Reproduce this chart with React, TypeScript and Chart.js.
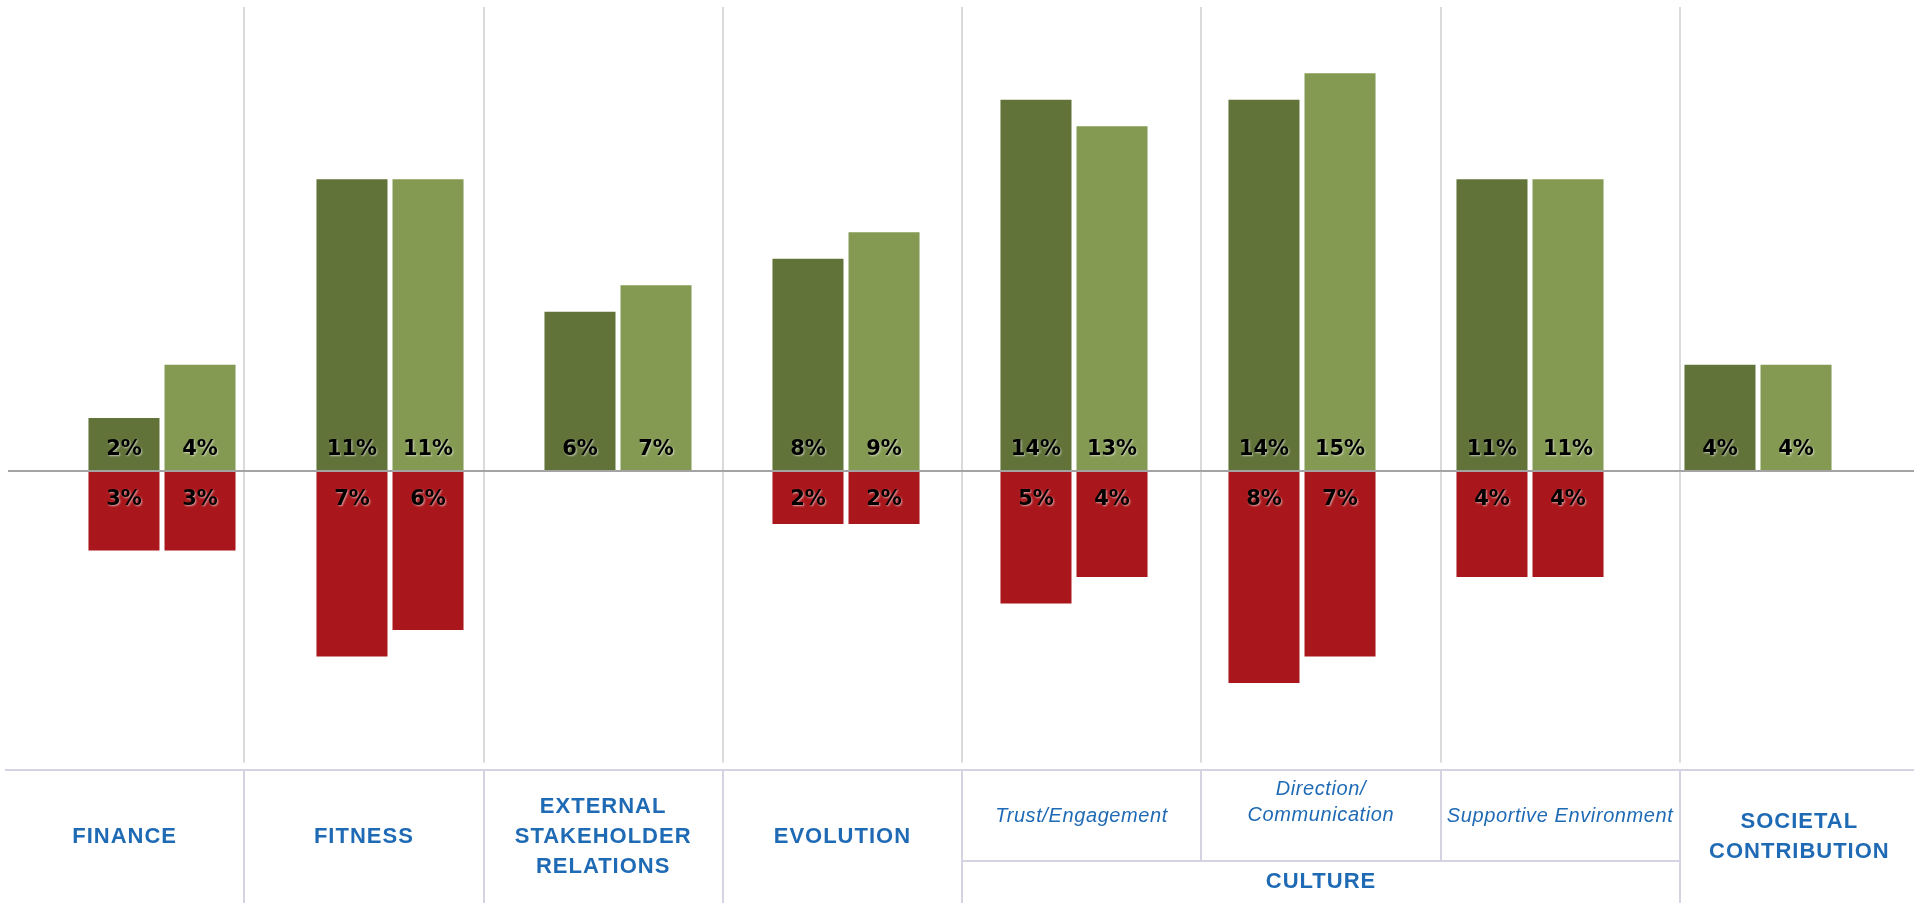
import React, { useEffect, useRef } from 'react';
import { Chart, registerables } from 'chart.js';

Chart.register(...registerables);

// ---- data ----
const categories = [
  'FINANCE',
  'FITNESS',
  'EXTERNAL STAKEHOLDER RELATIONS',
  'EVOLUTION',
  'Trust/Engagement',
  'Direction/Communication',
  'Supportive Environment',
  'SOCIETAL CONTRIBUTION',
];
const headerLines: string[][] = [
  ['FINANCE'],
  ['FITNESS'],
  ['EXTERNAL', 'STAKEHOLDER', 'RELATIONS'],
  ['EVOLUTION'],
  ['Trust/Engagement'],
  ['Direction/', 'Communication'],
  ['Supportive Environment'],
  ['SOCIETAL', 'CONTRIBUTION'],
];
const isSubCategory = [false, false, false, false, true, true, true, false];
const parentGroupLabel = 'CULTURE';

const positiveA = [2, 11, 6, 8, 14, 14, 11, 4];
const positiveB = [4, 11, 7, 9, 13, 15, 11, 4];
const negativeA = [-3, -7, 0, -2, -5, -8, -4, 0];
const negativeB = [-3, -6, 0, -2, -4, -7, -4, 0];

const DARK_GREEN = '#617339';
const LIGHT_GREEN = '#849a53';
const RED = '#a9171c';
const BLUE = '#1f6ab4';

const overlayPlugin = {
  id: 'overlay',
  beforeDatasetsDraw(chart: any) {
    const { ctx, chartArea } = chart;
    const W = chart.width;
    const left = 5;
    const colW = W / 8;
    ctx.save();
    ctx.strokeStyle = '#dadada';
    ctx.lineWidth = 2;
    for (let i = 1; i < 8; i++) {
      const x = Math.round(left + colW * i);
      ctx.beginPath();
      ctx.moveTo(x, chartArea.top);
      ctx.lineTo(x, chartArea.bottom);
      ctx.stroke();
    }
    ctx.restore();
  },
  afterDatasetsDraw(chart: any) {
    const { ctx } = chart;
    const y0 = chart.scales.y.getPixelForValue(0);
    ctx.save();
    ctx.strokeStyle = '#a3a3a3';
    ctx.lineWidth = 2;
    ctx.beginPath();
    ctx.moveTo(8, y0);
    ctx.lineTo(chart.width, y0);
    ctx.stroke();

    ctx.font = 'bold 21px "DejaVu Sans"';
    ctx.textAlign = 'center';
    ctx.textBaseline = 'middle';
    ctx.fillStyle = '#000';
    ctx.shadowColor = 'rgba(255,255,255,0.6)';
    ctx.shadowOffsetX = 1;
    ctx.shadowOffsetY = 1;
    ctx.shadowBlur = 2;
    chart.data.datasets.forEach((ds: any, di: number) => {
      const meta = chart.getDatasetMeta(di);
      meta.data.forEach((bar: any, i: number) => {
        const v = ds.data[i];
        if (!v) return;
        const y = v > 0 ? y0 - 21 : y0 + 29;
        ctx.fillText(Math.abs(v) + '%', bar.x, y);
      });
    });
    ctx.restore();
  },
  afterDraw(chart: any) {
    const { ctx } = chart;
    const W = chart.width;
    const H = chart.height;
    const left = 5;
    const colW = W / 8;
    const top = 770;
    const subLineY = 861;
    ctx.save();
    ctx.strokeStyle = '#d3d3e1';
    ctx.lineWidth = 2;
    ctx.beginPath();
    ctx.moveTo(left, top);
    ctx.lineTo(W, top);
    ctx.stroke();
    for (let i = 1; i < 8; i++) {
      const x = Math.round(left + colW * i);
      const inner = isSubCategory[i - 1] && isSubCategory[i];
      ctx.beginPath();
      ctx.moveTo(x, top);
      ctx.lineTo(x, inner ? subLineY : H);
      ctx.stroke();
    }
    const firstSub = isSubCategory.indexOf(true);
    const lastSub = isSubCategory.lastIndexOf(true);
    const subL = Math.round(left + colW * firstSub);
    const subR = Math.round(left + colW * (lastSub + 1));
    ctx.beginPath();
    ctx.moveTo(subL, subLineY);
    ctx.lineTo(subR, subLineY);
    ctx.stroke();

    ctx.fillStyle = BLUE;
    ctx.textAlign = 'center';
    ctx.textBaseline = 'middle';
    headerLines.forEach((lines, i) => {
      const cx = left + colW * (i + 0.5);
      if (isSubCategory[i]) {
        ctx.font = 'italic 20px "Liberation Sans"';
        (ctx as any).letterSpacing = '0.6px';
        const lh = 26;
        const cy = lines.length > 1 ? 802 : 816;
        lines.forEach((t, k) => {
          ctx.fillText(t, cx, cy + (k - (lines.length - 1) / 2) * lh);
        });
      } else {
        ctx.font = 'bold 22px "Liberation Sans"';
        (ctx as any).letterSpacing = '1px';
        const lh = 30;
        const cy = (top + H) / 2;
        lines.forEach((t, k) => {
          ctx.fillText(t, cx, cy + (k - (lines.length - 1) / 2) * lh);
        });
      }
    });
    ctx.font = 'bold 22px "Liberation Sans"';
    (ctx as any).letterSpacing = '1px';
    ctx.fillText(parentGroupLabel, (subL + subR) / 2, (subLineY + H) / 2);
    ctx.restore();
  },
};

export default function App() {
  const ref = useRef<HTMLCanvasElement>(null);
  useEffect(() => {
    document.body.style.margin = '0';
    const canvas = ref.current!;
    const chart = new Chart(canvas, {
      type: 'bar',
      data: {
        labels: categories,
        datasets: [
          { label: 'A+', data: positiveA, backgroundColor: DARK_GREEN, stack: 'a' },
          { label: 'A-', data: negativeA, backgroundColor: RED, stack: 'a' },
          { label: 'B+', data: positiveB, backgroundColor: LIGHT_GREEN, stack: 'b' },
          { label: 'B-', data: negativeB, backgroundColor: RED, stack: 'b' },
        ],
      },
      options: {
        responsive: false,
        animation: false,
        devicePixelRatio: 1,
        layout: { padding: { left: 48, right: 42, top: 7, bottom: 140.5 } },
        datasets: { bar: { categoryPercentage: 0.667, barPercentage: 0.934 } } as any,
        plugins: { legend: { display: false }, tooltip: { enabled: false } },
        scales: {
          x: { display: false, stacked: true },
          y: { display: false, stacked: true, min: -11, max: 17.5 },
        },
      },
      plugins: [overlayPlugin],
    });
    return () => chart.destroy();
  }, []);
  return <canvas ref={ref} width={1914} height={903} style={{ display: 'block' }} />;
}
